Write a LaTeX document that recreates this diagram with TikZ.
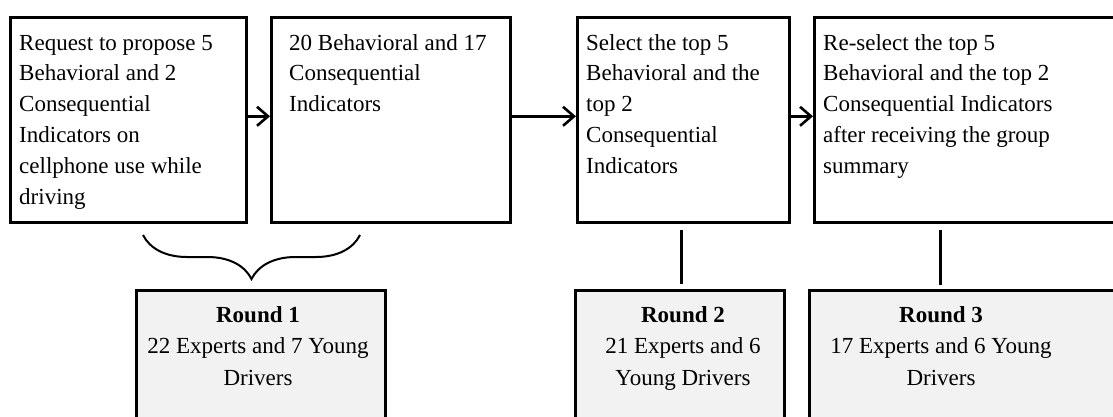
\documentclass[tikz,border=0pt]{standalone}
\usepackage{fontspec}
\setmainfont{Liberation Serif}
\usetikzlibrary{arrows.meta,decorations.pathreplacing}
\definecolor{boxgray}{HTML}{F2F2F2}
\begin{document}
\begin{tikzpicture}[x=1pt,y=-1pt,
  stepbox/.style={draw, line width=2.6pt, fill=white, inner sep=0pt, anchor=north west},
  roundbox/.style={draw, line width=2.6pt, fill=boxgray, inner sep=0pt, anchor=north west},
  txt/.style={anchor=base west, inner sep=0pt, font=\fontsize{23}{30.8}\selectfont},
  ctxt/.style={anchor=base, inner sep=0pt, font=\fontsize{23}{31.5}\selectfont},
  arr/.style={line width=2.6pt, -{Straight Barb[length=11pt,width=19pt,line width=2.6pt]}},
  vlink/.style={draw, line width=3pt},
  bracestyle/.style={line width=2pt, decorate, decoration={brace, amplitude=44pt}}]
\useasboundingbox (0,0) rectangle (1113,416);
\clip (0,0) rectangle (1113,416);
% top boxes
\node[stepbox, minimum width=236pt, minimum height=205pt] (b1) at (9,16) {};
\node[stepbox, minimum width=239pt, minimum height=205pt] (b2) at (270,16) {};
\node[stepbox, minimum width=212pt, minimum height=205pt] (b3) at (576,16) {};
\node[stepbox, minimum width=330pt, minimum height=205pt] (b4) at (813,16) {};
% bottom boxes
\node[roundbox, minimum width=249pt, minimum height=150pt] (r1) at (135,289) {};
\node[roundbox, minimum width=209pt, minimum height=150pt] (r2) at (574,289) {};
\node[roundbox, minimum width=330pt, minimum height=150pt] (r3) at (808,289) {};
% texts
\node[txt] (t1) at (19,50) {\parbox[t]{230pt}{\raggedright Request to propose 5\\Behavioral and 2\\Consequential\\Indicators on\\cellphone use while\\driving}};
\node[txt] (t2) at (289,50) {\parbox[t]{230pt}{\raggedright 20 Behavioral and 17\\Consequential\\Indicators}};
\node[txt] (t3) at (586,50) {\parbox[t]{230pt}{\raggedright Select the top 5\\Behavioral and the\\top 2\\Consequential\\Indicators}};
\node[txt] (t4) at (823,50) {\parbox[t]{290pt}{\raggedright Re-select the top 5\\Behavioral and the top 2\\Consequential Indicators\\after receiving the group\\summary}};
\node[ctxt] (u1) at (258,322) {\parbox[t]{300pt}{\centering\textbf{Round 1}\\22 Experts and 7 Young\\Drivers}};
\node[ctxt] (u2) at (683,322) {\parbox[t]{300pt}{\centering\textbf{Round 2}\\21 Experts and 6\\Young Drivers}};
\node[ctxt] (u3) at (941,322) {\parbox[t]{300pt}{\centering\textbf{Round 3}\\17 Experts and 6 Young\\Drivers}};
% arrows
\draw[arr] ([yshift=3.5pt]b1.east) -- ([yshift=3.5pt]b2.west);
\draw[arr] ([yshift=3.5pt]b2.east) -- ([yshift=3.5pt]b3.west);
\draw[arr] ([yshift=3.5pt]b3.east) -- ([yshift=3.5pt]b4.west);
% vertical links
\coordinate (l2a) at (681,230);
\coordinate (l2b) at (681,284);
\coordinate (l3a) at (940,230);
\coordinate (l3b) at (940,285);
\path[vlink] (l2a) -- (l2b);
\path[vlink] (l3a) -- (l3b);
% brace
\coordinate (bra) at (360,235);
\coordinate (brb) at (143,235);
\draw[bracestyle] (bra) -- (brb);
\end{tikzpicture}
\end{document}
